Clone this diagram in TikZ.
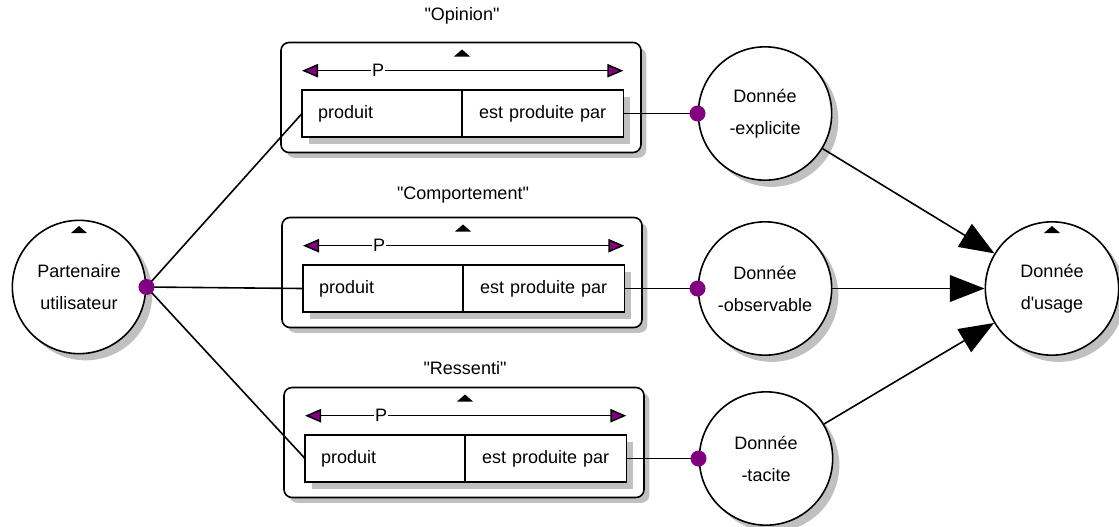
\documentclass[tikz,border=0pt]{standalone}
\usepackage{fontspec}
\setmainfont{Liberation Sans}
\usepackage{tikz}
\usetikzlibrary{
  arrows.meta,
  positioning,
  shadows
}
\definecolor{orPurple}{HTML}{800080}
\definecolor{orShadow}{HTML}{C0C0C0}
\tikzset{
  orfont/.style={font=\fontsize{13.5}{24}\selectfont},
  obj/.style={
    circle, draw, line width=1.2pt, fill=white, minimum size=100pt,
    inner sep=0pt, align=center, orfont,
    drop shadow={shadow xshift=5pt, shadow yshift=-5pt, fill=orShadow, opacity=1}
  },
  factbox/.style={
    draw, rounded corners=6pt, line width=1.2pt, fill=white,
    minimum width=270pt, minimum height=82.5pt,
    drop shadow={shadow xshift=4pt, shadow yshift=-4pt, fill=orShadow, opacity=1}
  },
  rolecell/.style={
    draw, line width=1.2pt, fill=white, minimum height=35pt,
    inner xsep=12pt, inner ysep=0pt, outer sep=0pt, orfont,
    drop shadow={shadow xshift=5pt, shadow yshift=-5pt, fill=orShadow, opacity=1}
  },
  roleline/.style={
    {Triangle[length=12pt, width=10pt, fill=orPurple]}-{Triangle[length=12pt, width=10pt, fill=orPurple]},
    line width=1.1pt
  },
  rolename/.style={fill=white, inner sep=1pt, orfont},
  facttitle/.style={orfont},
  anchorpt/.style={circle, fill=orPurple, inner sep=0pt, minimum size=12pt},
  link/.style={line width=1.2pt},
  subtype/.style={-{Triangle[length=26pt, width=20pt]}, line width=1.2pt}
}

\begin{document}
\begin{tikzpicture}[x=0.75pt, y=-0.75pt]
  \useasboundingbox (0,0) rectangle (1119,526);

  \node[obj] (pu) at (79,287) {Partenaire\\utilisateur};
  \node[obj] (ex) at (765,113.5) {Donn\'ee\\-explicite};
  \node[obj] (ob) at (765,288.5) {Donn\'ee\\-observable};
  \node[obj] (ta) at (766,458.5) {Donn\'ee\\-tacite};
  \node[obj] (us) at (1052,288.5) {Donn\'ee\\d\textquotesingle usage};

  \fill (71,233) -- (87,233) -- (79,226) -- cycle;
  \fill (1044,233) -- (1060,233) -- (1052,226) -- cycle;

  \foreach \n/\xl/\yc/\yt/\t in {o/302/113.5/16/Opinion, c/303/288.5/195/Comportement, r/305/458.5/368/Ressenti} {
    \node[factbox] (f\n) at (\xl+159,\yc-16) {};
    \node[facttitle] (t\n) at (\xl+160,\yt) {\textquotedbl\t\textquotedbl};
    \node[rolecell, anchor=west, text width=96pt, align=left] (l\n) at (\xl,\yc) {produit};
    \node[rolecell, right=0pt of l\n, text width=97pt, align=center] (r\n) {est produite par};
    \draw[roleline] ([yshift=14.6pt]l\n.north west) -- node[rolename, pos=0.237] (p\n) {P} ([yshift=14.6pt]r\n.north east);
    \fill (\xl+152,\yc-57) -- (\xl+168,\yc-57) -- (\xl+160,\yc-64) -- cycle;
  }

  \draw[link] (pu.east) -- (lo.west);
  \draw[link] (pu.east) -- (lc.west);
  \draw[link] (pu.east) -- (lr.west);
  \draw[link] (ro.east) -- (ex.west);
  \draw[link] (rc.east) -- (ob.west);
  \draw[link] (rr.east) -- (ta.west);

  \node[anchorpt] (dpu) at (pu.east) {};
  \node[anchorpt] (dex) at (ex.west) {};
  \node[anchorpt] (dob) at (ob.west) {};
  \node[anchorpt] (dta) at (ta.west) {};

  \draw[subtype] (ex) -- (us);
  \draw[subtype] (ob) -- (us);
  \draw[subtype] (ta) -- (us);
\end{tikzpicture}
\end{document}
